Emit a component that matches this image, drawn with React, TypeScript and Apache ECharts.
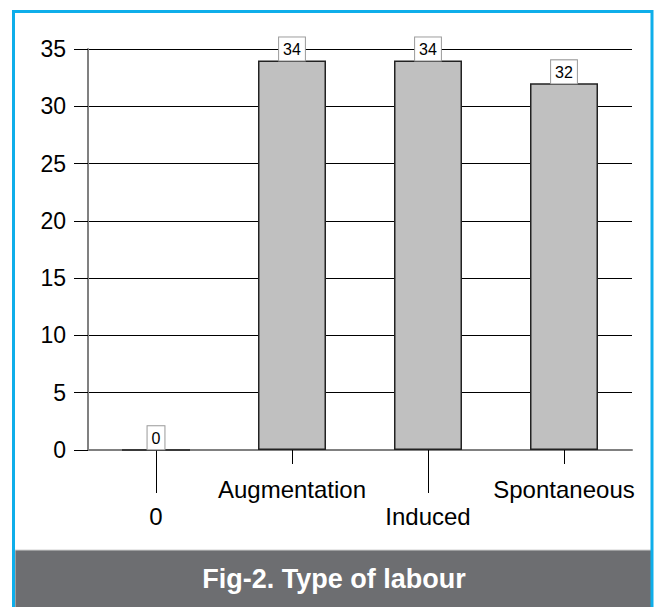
import React, { useEffect, useRef } from "react";
import * as echarts from "echarts";

const categories = ["0", "Augmentation", "Induced", "Spontaneous"];
const counts = [0, 34, 34, 32];
const yTicks = { min: 0, max: 35, interval: 5 };
const title = "Fig-2. Type of labour";

const FONT = "Arial, 'Liberation Sans', Helvetica, sans-serif";

export default function App() {
  const ref = useRef<HTMLDivElement>(null);
  useEffect(() => {
    if (!ref.current) return;
    const chart = echarts.init(ref.current, undefined, { renderer: "svg" });
    const W = 654;
    chart.setOption({
      animation: false,
      backgroundColor: "#fff",
      grid: { left: 88, right: 22, top: 49, bottom: 157, containLabel: false },
      xAxis: [
        {
          type: "category",
          data: categories,
          position: "bottom",
          axisLine: { show: true, lineStyle: { color: "#808080", width: 2 } },
          axisTick: {
            show: true,
            alignWithLabel: true,
            length: 14,
            interval: (i: number) => i % 2 === 1,
            lineStyle: { color: "#000", width: 1 },
          },
          axisLabel: {
            interval: (i: number) => i % 2 === 1,
            margin: 27,
            fontSize: 24,
            color: "#000",
            fontFamily: FONT,
          },
          splitLine: { show: false },
        },
        {
          type: "category",
          data: categories,
          position: "bottom",
          offset: 0,
          axisLine: { show: false },
          axisTick: {
            show: true,
            alignWithLabel: true,
            length: 43,
            interval: (i: number) => i % 2 === 0,
            lineStyle: { color: "#000", width: 1 },
          },
          axisLabel: {
            interval: (i: number) => i % 2 === 0,
            margin: 54,
            fontSize: 24,
            color: "#000",
            fontFamily: FONT,
          },
          splitLine: { show: false },
        },
      ],
      yAxis: {
        type: "value",
        min: yTicks.min,
        max: yTicks.max,
        interval: yTicks.interval,
        axisLine: { show: true, lineStyle: { color: "#808080", width: 2 } },
        axisTick: { show: true, length: 14, lineStyle: { color: "#000", width: 1 } },
        axisLabel: { margin: 22, fontSize: 23, color: "#000", fontFamily: FONT },
        splitLine: { show: true, lineStyle: { color: "#000", width: 1 } },
      },
      series: [
        {
          type: "bar",
          xAxisIndex: 0,
          data: counts,
          barWidth: "50%",
          itemStyle: { color: "#c0c0c0", borderColor: "#222", borderWidth: 1.5 },
          label: {
            show: true,
            position: "top",
            distance: 0,
            backgroundColor: "#fff",
            borderColor: "#999",
            borderWidth: 1,
            padding: [4, 4, 3, 4],
            fontSize: 16,
            color: "#000",
            fontFamily: FONT,
          },
          z: 3,
        },
      ],
      graphic: [
        {
          type: "rect",
          shape: { x: 15, y: 550, width: 637, height: 60 },
          style: { fill: "#6d6e71", stroke: "#d0d0d0", lineWidth: 1 },
          z: 10,
        },
        {
          type: "text",
          x: 334,
          y: 579,
          style: {
            text: title,
            fill: "#fff",
            font: `bold 27px ${FONT}`,
            textAlign: "center",
            textVerticalAlign: "middle",
          },
          z: 11,
        },
        {
          type: "rect",
          shape: { x: 13.5, y: 11.5, width: W - 13.5 - 2, height: 620 },
          style: { fill: "none", stroke: "#0eaeea", lineWidth: 3 },
          z: 12,
        },
      ],
    });
    return () => chart.dispose();
  }, []);
  return (
    <div
      ref={ref}
      style={{ position: "fixed", left: 0, top: 0, width: 654, height: 607 }}
    />
  );
}
